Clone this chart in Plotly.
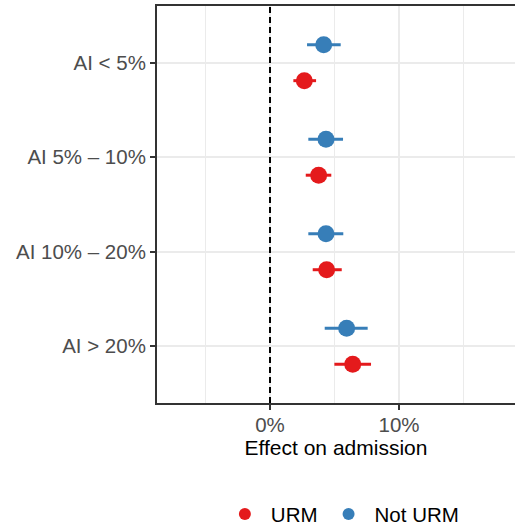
import plotly.graph_objects as go

categories = ["AI < 5%", "AI 5% – 10%", "AI 10% – 20%", "AI > 20%"]

urm_est = [2.66, 3.77, 4.39, 6.41]
urm_lo = [1.81, 2.77, 3.31, 4.99]
urm_hi = [3.57, 4.75, 5.56, 7.83]

noturm_est = [4.16, 4.34, 4.34, 5.94]
noturm_lo = [2.87, 2.97, 2.97, 4.24]
noturm_hi = [5.48, 5.66, 5.68, 7.57]

RED = "#E41A1C"
BLUE = "#377EB8"
DODGE = 0.19
FONT = "Liberation Sans, Arial, sans-serif"

idx = list(range(len(categories)))

fig = go.Figure()

def add_series(name, est, lo, hi, color, offset):
    fig.add_trace(go.Scatter(
        x=est,
        y=[i + offset for i in idx],
        mode="markers",
        name=name,
        marker=dict(color=color, size=17, line=dict(width=0)),
        error_x=dict(
            type="data",
            symmetric=False,
            array=[h - e for h, e in zip(hi, est)],
            arrayminus=[e - l for e, l in zip(est, lo)],
            color=color,
            thickness=3,
            width=0,
        ),
    ))

add_series("URM", urm_est, urm_lo, urm_hi, RED, DODGE)
add_series("Not URM", noturm_est, noturm_lo, noturm_hi, BLUE, -DODGE)

fig.add_shape(type="line", xref="x", yref="paper", x0=0, x1=0, y0=0, y1=1,
              line=dict(color="black", width=2, dash="6px,4px"))

fig.update_layout(
    width=515, height=529,
    margin=dict(l=157, r=0, t=6, b=126, autoexpand=False),
    paper_bgcolor="white",
    plot_bgcolor="white",
    font=dict(family=FONT, color="#000000", size=20),
    showlegend=True,
    legend=dict(
        orientation="h",
        yref="container",
        x=0.515, xanchor="center",
        y=0.028, yanchor="middle",
        font=dict(size=20.5, color="#000000"),
        itemsizing="constant",
        itemwidth=42,
    ),
    xaxis=dict(
        range=[-8.76, 18.99],
        tick0=0, dtick=10,
        ticksuffix="%",
        showgrid=True, gridcolor="#EBEBEB", gridwidth=1.5,
        minor=dict(dtick=5, tick0=0, showgrid=True, gridcolor="#EBEBEB", gridwidth=1.2, ticklen=0),
        zeroline=False,
        showline=True, linecolor="#333333", linewidth=2, mirror=True,
        ticks="outside", ticklen=5, tickwidth=1.5, tickcolor="#333333",
        ticklabelstandoff=-3,
        tickfont=dict(size=20.5, color="#4D4D4D"),
        title=dict(text="Effect on admission", font=dict(size=21, color="#000000"), standoff=2),
    ),
    yaxis=dict(
        range=[3.6, -0.6],
        tickvals=idx,
        ticktext=categories,
        showgrid=True, gridcolor="#EBEBEB", gridwidth=2,
        zeroline=False,
        showline=True, linecolor="#333333", linewidth=2,
        ticks="outside", ticklen=5, tickwidth=1.5, tickcolor="#333333",
        tickfont=dict(size=20.5, color="#4D4D4D"),
    ),
)

fig.write_html("out.html")
